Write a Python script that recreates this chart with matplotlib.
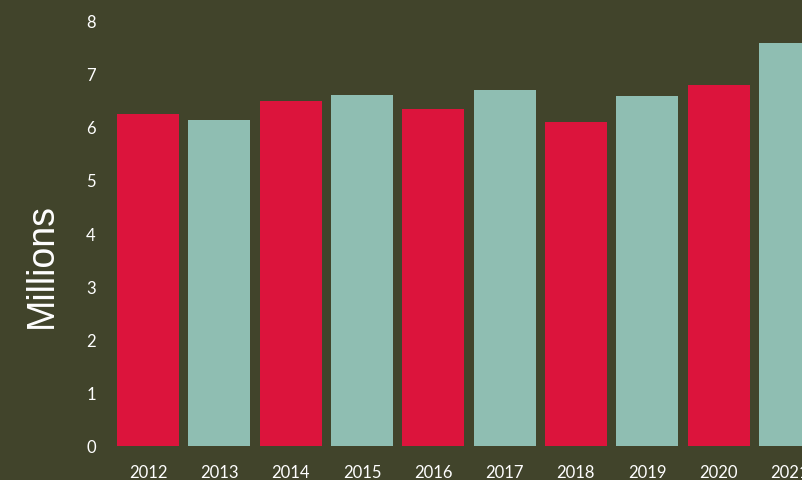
import matplotlib
matplotlib.use("Agg")
import matplotlib.pyplot as plt

years = ["2012", "2013", "2014", "2015", "2016", "2017", "2018", "2019", "2020", "2021"]
values = [6.24, 6.13, 6.49, 6.60, 6.33, 6.69, 6.09, 6.58, 6.79, 7.58]
y_ticks = [0, 1, 2, 3, 4, 5, 6, 7, 8]

bg = "#41442B"
red = "#DC143C"
teal = "#8FBEB2"
colors = [red if i % 2 == 0 else teal for i in range(len(years))]

fig = plt.figure(figsize=(8.02, 4.81), dpi=100, facecolor=bg)
ax = fig.add_axes([112.4 / 802, 34 / 481, 1 - 112.4 / 802, 425.6 / 481])
ax.set_facecolor(bg)
x = list(range(len(years)))
ax.bar(x, values, width=0.87, color=colors)
ax.set_xlim(-0.5, 9.17)
ax.set_ylim(0, 8)
ax.set_xticks(x)
ax.set_xticklabels(years)
ax.set_yticks(y_ticks)
ax.set_yticklabels([str(t) for t in y_ticks])
for s in ax.spines.values():
    s.set_visible(False)
ax.tick_params(axis="both", length=0, colors="white", labelsize=12)
ax.tick_params(axis="y", pad=12)
ax.tick_params(axis="x", pad=13)
for lab in ax.get_xticklabels() + ax.get_yticklabels():
    lab.set_fontfamily("Lato")
fig.text(42 / 802, 1 - 266 / 481, "Millions", rotation=90, color="white",
         fontsize=27, fontfamily="Liberation Sans", ha="center", va="center")
fig.savefig("out.png", dpi=100, facecolor=bg)
